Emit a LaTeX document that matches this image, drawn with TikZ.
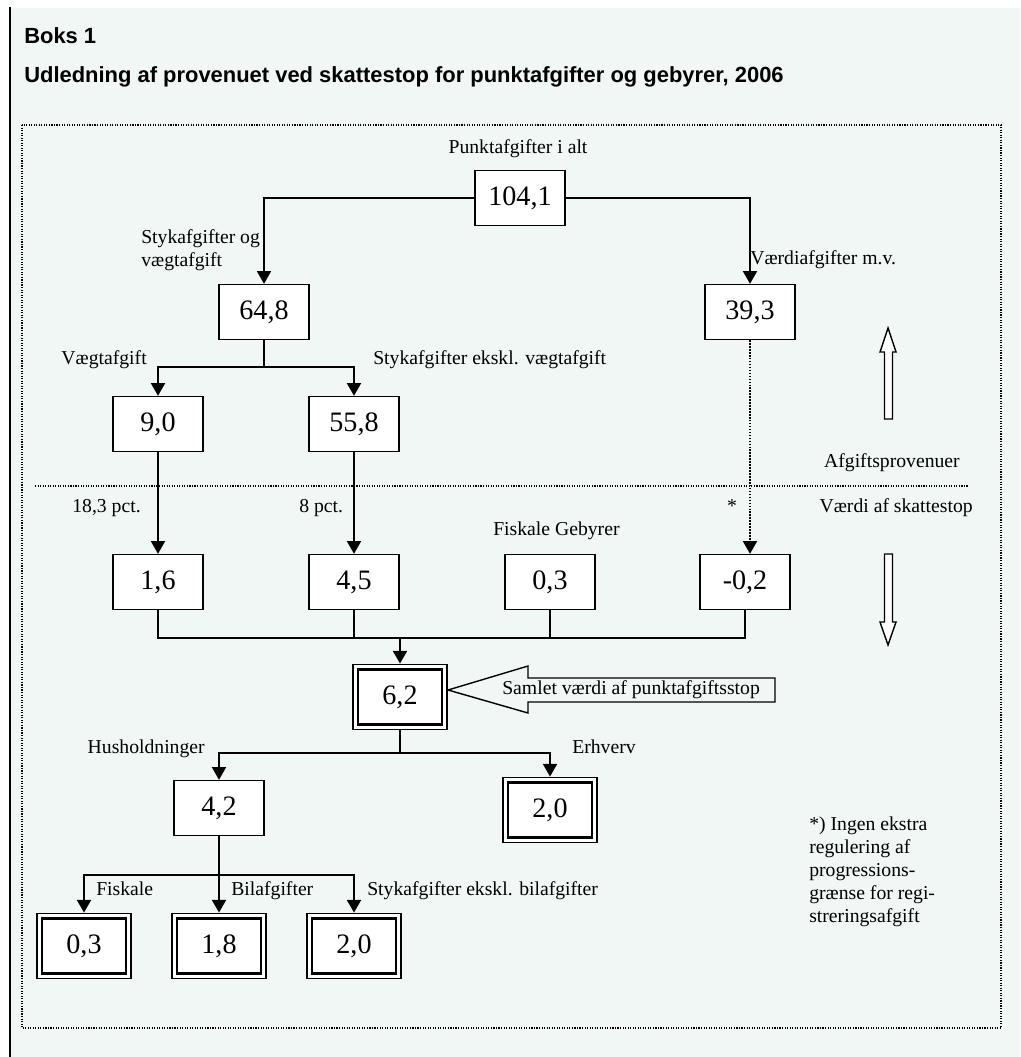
\documentclass[tikz,border=0pt]{standalone}
\usepackage{fontspec}
\setmainfont{Liberation Serif}
\newfontfamily\headfont{Liberation Sans}
\usetikzlibrary{arrows.meta}
\definecolor{bgmint}{RGB}{240,247,244}

\begin{document}
\begin{tikzpicture}[x=0.025cm, y=-0.025cm,
  box/.style={draw, fill=white, line width=1pt, minimum width=2.25cm, minimum height=1.375cm, inner sep=0pt, font=\fontsize{20}{24}\selectfont},
  dbox/.style={box, line width=2pt, minimum width=2.1cm, minimum height=1.39cm, outer sep=4pt,
    preaction={draw, line width=8pt}, preaction={draw=white, line width=6pt}},
  lab/.style={inner sep=0pt, anchor=base west, font=\fontsize{14}{16.3}\selectfont},
  head/.style={inner sep=0pt, anchor=base west, font=\headfont\bfseries\fontsize{15.6}{18}\selectfont},
  conn/.style={line width=1.1pt},
  arr/.style={conn, -{Triangle[length=9pt,width=10pt]}},
  hollow/.style={draw, fill=white, line width=1pt}]
  \useasboundingbox (0,0) rectangle (1020,1057);
  \fill[white] (0,0) rectangle (1020,1057);
  \fill[bgmint] (10,8) rectangle (1020,1057);
  \draw[line width=1pt] (10,7) -- (10,1057);

  \node[head] (boks) at (24,44) {Boks 1};
  \node[head] (titel) at (24,83) {Udledning af provenuet ved skattestop for punktafgifter og gebyrer, 2006};

  \draw[densely dotted, line width=0.8pt] (22,125) rectangle (1001,1028);
  \draw[densely dotted, line width=0.8pt] (35,486) -- (968,486);

  \node[box] (total) at (520,198) {104,1};
  \node[box] (styk) at (264,312) {64,8};
  \node[box] (vaerdi) at (750,312) {39,3};
  \node[box] (vaegt) at (158,424) {9,0};
  \node[box] (eksvaegt) at (354,424) {55,8};
  \node[box] (sv) at (158,582) {1,6};
  \node[box] (se) at (354,582) {4,5};
  \node[box] (sg) at (550,582) {0,3};
  \node[box] (sr) at (745,582) {-0,2};
  \node[dbox] (samlet) at (400,697) {6,2};
  \node[box] (hush) at (219,808) {4,2};
  \node[dbox] (erhv) at (550,810) {2,0};
  \node[dbox] (fisk) at (84,946) {0,3};
  \node[dbox] (bil) at (219,946) {1,8};
  \node[dbox] (eksbil) at (354,946) {2,0};

  \coordinate (j1) at (264,367);
  \coordinate (j2) at (400,638);
  \coordinate (j3) at (400,753);
  \coordinate (j4) at (219,875);

  \draw[arr] (total.west) -| (styk.north);
  \draw[arr] (total.east) -| (vaerdi.north);
  \draw[conn] (styk.south) -- (j1);
  \draw[arr] (j1) -| (vaegt.north);
  \draw[arr] (j1) -| (eksvaegt.north);
  \draw[arr] (vaegt) -- (sv);
  \draw[arr] (eksvaegt) -- (se);
  \draw[arr, densely dotted] (vaerdi.south) -- (vaerdi.south |- sr.north);
  \foreach \b in {sv,se,sg,sr}
    \draw[conn] (\b.south) |- (j2);
  \draw[arr] (j2) -- (samlet.north);
  \draw[conn] (samlet.south) -- (j3);
  \draw[arr] (j3) -| (hush.north);
  \draw[arr] (j3) -| (erhv.north);
  \draw[conn] (hush.south) -- (j4);
  \draw[arr] (j4) -| (fisk.north);
  \draw[arr] (j4) -- (bil.north);
  \draw[arr] (j4) -| (eksbil.north);

  \draw[line width=1pt, fill=bgmint] (448,690) -- (528,666) -- (528,678) -- (775,678)
    -- (775,702) -- (528,702) -- (528,713) -- cycle;
  \node[lab] (lsamlet) at (502,694) {Samlet værdi af punktafgiftsstop};

  \draw[hollow] (884.5,419) -- (884.5,352) -- (880,352) -- (888,328) -- (896,352)
    -- (892.5,352) -- (892.5,419) -- cycle;
  \draw[hollow] (884.5,554) -- (884.5,622) -- (880,622) -- (888,645) -- (896,622)
    -- (892.5,622) -- (892.5,554) -- cycle;

  \node[lab, anchor=base] (lpunkt) at (518,153) {Punktafgifter i alt};
  \node[lab, anchor=north west, align=left] (lstyk) at (141,229) {Stykafgifter og\\vægtafgift};
  \node[lab] (lvaerdi) at (750,264) {Værdiafgifter m.v.};
  \node[lab, anchor=base east] (lvaegt) at (147,364) {Vægtafgift};
  \node[lab] (leksv) at (373,364) {Stykafgifter ekskl. vægtafgift};
  \node[lab, anchor=base east] (lpct1) at (141,512) {18,3 pct.};
  \node[lab] (lpct2) at (299,512) {8 pct.};
  \node[lab, anchor=base] (lstar) at (732,512) {*};
  \node[lab] (lgeb) at (493,535) {Fiskale Gebyrer};
  \node[lab, anchor=base east] (lafg) at (960,467) {Afgiftsprovenuer};
  \node[lab, anchor=base east] (lskat) at (973,512) {Værdi af skattestop};
  \node[lab, anchor=base east] (lhush) at (205,753) {Husholdninger};
  \node[lab] (lerhv) at (572,753) {Erhverv};
  \node[lab] (lfisk) at (96,895) {Fiskale};
  \node[lab] (lbil) at (231,895) {Bilafgifter};
  \node[lab] (leksb) at (367,895) {Stykafgifter ekskl. bilafgifter};
  \node[lab, anchor=north west, align=left] (lnote) at (809,817)
    {*) Ingen ekstra\\regulering af\\progressions-\\grænse for regi-\\streringsafgift};
\end{tikzpicture}
\end{document}
